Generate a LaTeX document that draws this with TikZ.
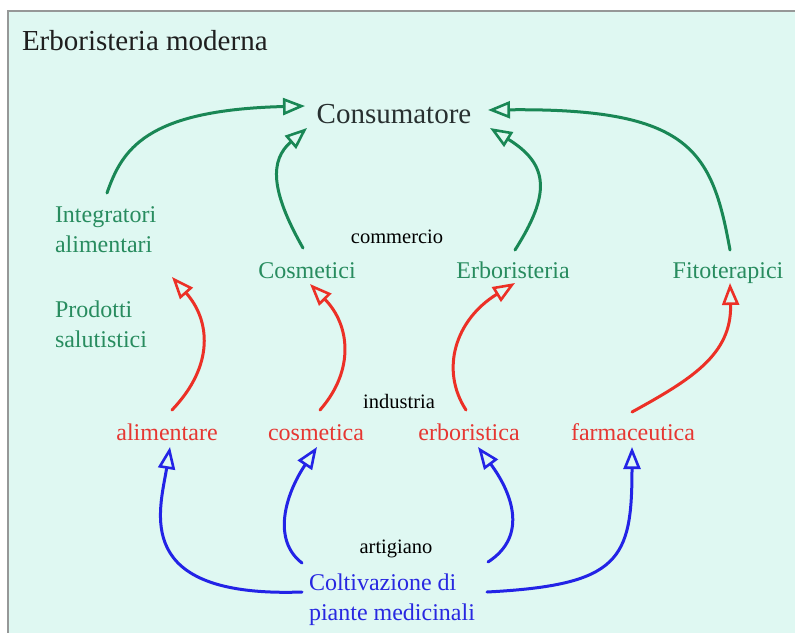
\documentclass[tikz,border=0pt]{standalone}
\usepackage{fontspec}
\setmainfont{Liberation Serif}
\usetikzlibrary{arrows.meta}
\definecolor{bgc}{RGB}{223,248,242}
\definecolor{framec}{RGB}{150,152,152}
\definecolor{garr}{RGB}{25,135,85}
\definecolor{gtxt}{RGB}{40,140,95}
\definecolor{rarr}{RGB}{236,48,38}
\definecolor{rtxt}{RGB}{230,55,50}
\definecolor{barr}{RGB}{35,35,230}
\definecolor{btxt}{RGB}{40,40,225}
\definecolor{darktxt}{RGB}{40,48,48}
\begin{document}
\begin{tikzpicture}[x=1pt,y=-1pt,
  every node/.style={inner sep=0pt, outer sep=0pt},
  bigtxt/.style={font=\fontsize{29}{34}\selectfont},
  lbl/.style={font=\fontsize{24}{30}\selectfont},
  small/.style={font=\fontsize{20.5}{24}\selectfont, text=black},
  gtext/.style={lbl, text=gtxt},
  rtext/.style={lbl, text=rtxt},
  btext/.style={lbl, text=btxt},
  conn/.style={line width=3pt, line cap=round, -{Triangle[open, length=22pt, width=17pt, line width=2.6pt]}},
  garrow/.style={conn, draw=garr},
  rarrow/.style={conn, draw=rarr},
  barrow/.style={conn, draw=barr}]
\useasboundingbox (0,0) rectangle (795,632);
\draw[fill=bgc, draw=framec, line width=2pt] (8,11) rectangle (830,670);

% texts
\node[bigtxt, text=black!88, anchor=base west] (title) at (22,50) {Erboristeria moderna};
\node[bigtxt, text=darktxt, anchor=base] (cons) at (394,123) {Consumatore};

\node[gtext, anchor=north west, align=left] (integr) at (55,207) {Integratori\\alimentari};
\node[gtext, anchor=north west, align=left] (prod) at (55,300.6) {Prodotti\\salutistici};
\node[small, anchor=base] (comm) at (397,243) {commercio};
\node[gtext, anchor=base] (cosm) at (307,278) {Cosmetici};
\node[gtext, anchor=base] (erbo) at (513,278) {Erboristeria};
\node[gtext, anchor=base] (fito) at (728,278) {Fitoterapici};

\node[small, anchor=base] (ind) at (399,408) {industria};
\node[rtext, anchor=base] (alim) at (167,440) {alimentare};
\node[rtext, anchor=base] (cosr) at (316,440) {cosmetica};
\node[rtext, anchor=base] (erbr) at (469,440) {erboristica};
\node[rtext, anchor=base] (farm) at (633,440) {farmaceutica};

\node[small, anchor=base] (art) at (396,553) {artigiano};
\node[btext, anchor=north west, align=left] (colt) at (309,573.6) {Coltivazione di\\piante medicinali};

% green connectors
\draw[garrow] ([shift={(52,-14)}]integr.north west) .. controls (122,150) and (145,110) .. ([shift={(-89,-17)}]cons.base);
\draw[garrow] ([shift={(-4,-30)}]cosm.base) .. controls (270,190) and (270,160) .. ([shift={(-87,5)}]cons.base);
\draw[garrow] ([shift={(2,-28)}]erbo.base) .. controls (550,195) and (550,165) .. ([shift={(96,5)}]cons.base);
\draw[garrow] ([shift={(2,-28)}]fito.base) .. controls (712,150) and (690,108) .. ([shift={(94,-13)}]cons.base);

% red connectors
\draw[rarrow] ([shift={(5,-30)}]alim.base) .. controls (215,365) and (210,320) .. ([shift={(117,70)}]integr.north west);
\draw[rarrow] ([shift={(4,-30)}]cosr.base) .. controls (355,370) and (350,325) .. ([shift={(3,6)}]cosm.base);
\draw[rarrow] ([shift={(-3,-30)}]erbr.base) .. controls (440,370) and (455,320) .. ([shift={(2,5)}]erbo.base);
\draw[rarrow] ([shift={(-1,-28)}]farm.base) .. controls (690,380) and (732,355) .. ([shift={(2,5)}]fito.base);

% blue connectors
\draw[barrow] ([shift={(-7,18.4)}]colt.north west) .. controls (130,598) and (160,510) .. ([shift={(3,7)}]alim.base);
\draw[barrow] ([shift={(-7,-10.6)}]colt.north west) .. controls (272,540) and (285,495) .. ([shift={(1,7)}]cosr.base);
\draw[barrow] ([shift={(179,-11.6)}]colt.north west) .. controls (530,535) and (510,490) .. ([shift={(9,7)}]erbr.base);
\draw[barrow] ([shift={(178,18.4)}]colt.north west) .. controls (620,585) and (632,560) .. ([shift={(-1,7)}]farm.base);
\end{tikzpicture}
\end{document}
